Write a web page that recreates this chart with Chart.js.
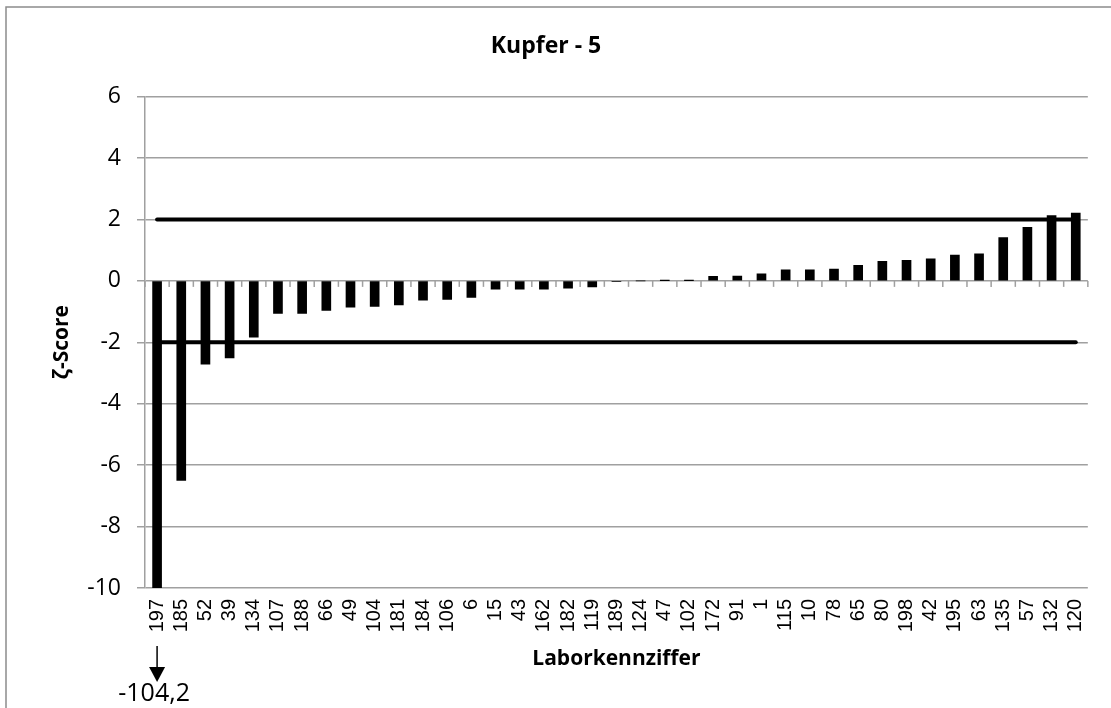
<!DOCTYPE html>
<html>
<head>
<meta charset="utf-8">
<script src="https://cdn.jsdelivr.net/npm/chart.js@4"></script>
<style>
  html, body { margin: 0; padding: 0; background: #fff; }
  #wrap { width: 1111px; height: 708px; }
</style>
</head>
<body>
<div id="wrap"><canvas id="chart" width="1111" height="708"></canvas></div>
<script>
const labs = ['197', '185', '52', '39', '134', '107', '188', '66', '49', '104',
    '181', '184', '106', '6', '15', '43', '162', '182', '119', '189',
    '124', '47', '102', '172', '91', '1', '115', '10', '78', '65',
    '80', '198', '42', '195', '63', '135', '57', '132', '120'];
const zScores = [-104.2, -6.5, -2.71, -2.51, -1.83, -1.06, -1.06, -0.96, -0.86, -0.83,
    -0.78, -0.63, -0.6, -0.54, -0.27, -0.27, -0.27, -0.24, -0.2, -0.02,
    0, 0.01, 0.01, 0.15, 0.16, 0.23, 0.36, 0.36, 0.38, 0.51,
    0.64, 0.67, 0.72, 0.84, 0.88, 1.41, 1.74, 2.13, 2.21];
const upperLimit = labs.map(() => 2);
const lowerLimit = labs.map(() => -2);
const outlierText = '-104,2';

const sans = '"Open Sans", "Noto Sans", sans-serif';
const gridGray = '#a0a0a0';

// frame, small ticks on the zero line and the outlier arrow
const extras = {
    id: 'extras',
    beforeDraw(chart) {
        const c = chart.ctx;
        c.save();
        c.strokeStyle = '#8c8c8c';
        c.lineWidth = 1.5;
        c.strokeRect(6, 7, 1300, 900);
        c.restore();
    },
    afterDatasetsDraw(chart) {
        const c = chart.ctx;
        const x = chart.scales.x;
        const y0 = chart.scales.y.getPixelForValue(0);
        c.save();
        c.strokeStyle = gridGray;
        c.lineWidth = 1.5;
        for (let i = 0; i <= labs.length; i++) {
            const px = x.getPixelForValue(i - 0.5);
            c.beginPath();
            c.moveTo(px, y0);
            c.lineTo(px, y0 + 6);
            c.stroke();
        }
        c.restore();
    },
    afterDraw(chart) {
        const c = chart.ctx;
        const px = chart.scales.x.getPixelForValue(0);
        c.save();
        c.strokeStyle = '#000';
        c.fillStyle = '#000';
        c.lineWidth = 1.5;
        c.beginPath();
        c.moveTo(px, 646);
        c.lineTo(px, 670);
        c.stroke();
        c.beginPath();
        c.moveTo(px - 8, 667);
        c.lineTo(px + 8, 667);
        c.lineTo(px, 682);
        c.closePath();
        c.fill();
        c.font = '25px ' + sans;
        c.textAlign = 'center';
        c.textBaseline = 'middle';
        c.fillText(outlierText, px - 3, 694);
        c.restore();
    }
};

new Chart(document.getElementById('chart'), {
    type: 'bar',
    data: {
        labels: labs,
        datasets: [
            {
                type: 'line',
                data: upperLimit,
                borderColor: '#000',
                borderWidth: 4,
                borderCapStyle: 'round',
                pointRadius: 0,
                fill: false
            },
            {
                type: 'line',
                data: lowerLimit,
                borderColor: '#000',
                borderWidth: 4,
                borderCapStyle: 'round',
                pointRadius: 0,
                fill: false
            },
            {
                data: zScores,
                backgroundColor: '#000',
                barThickness: 9
            }
        ]
    },
    options: {
        responsive: false,
        animation: false,
        layout: { padding: { left: 0, right: 19, top: 0, bottom: 0 } },
        plugins: {
            legend: { display: false },
            tooltip: { enabled: false },
            title: {
                display: true,
                text: 'Kupfer - 5',
                color: '#000',
                font: { family: sans, size: 23, weight: 'bold' },
                padding: { top: 33, bottom: 36 }
            }
        },
        scales: {
            x: {
                grid: { display: false, drawTicks: false },
                border: { display: false },
                ticks: {
                    color: '#000',
                    font: { family: '"Liberation Sans", Arial, sans-serif', size: 20 },
                    minRotation: 90,
                    maxRotation: 90,
                    autoSkip: false,
                    padding: 11
                },
                title: {
                    display: true,
                    text: 'Laborkennziffer',
                    color: '#000',
                    font: { family: sans, size: 21, weight: 'bold' },
                    padding: { top: 0, bottom: 36 }
                },
                afterFit(scale) { scale.height = 120; }
            },
            y: {
                min: -10,
                max: 6,
                ticks: {
                    stepSize: 2,
                    color: '#000',
                    font: { family: sans, size: 23 },
                    padding: 16
                },
                grid: { color: gridGray, lineWidth: 1.5, tickLength: 8 },
                border: { color: gridGray, width: 1.5 },
                title: {
                    display: true,
                    text: 'ζ-Score',
                    color: '#000',
                    font: { family: sans, size: 21, weight: 'bold' },
                    padding: { top: 49, bottom: 0 }
                },
                afterFit(scale) { scale.width = 145; }
            }
        }
    },
    plugins: [extras]
});
</script>
</body>
</html>
